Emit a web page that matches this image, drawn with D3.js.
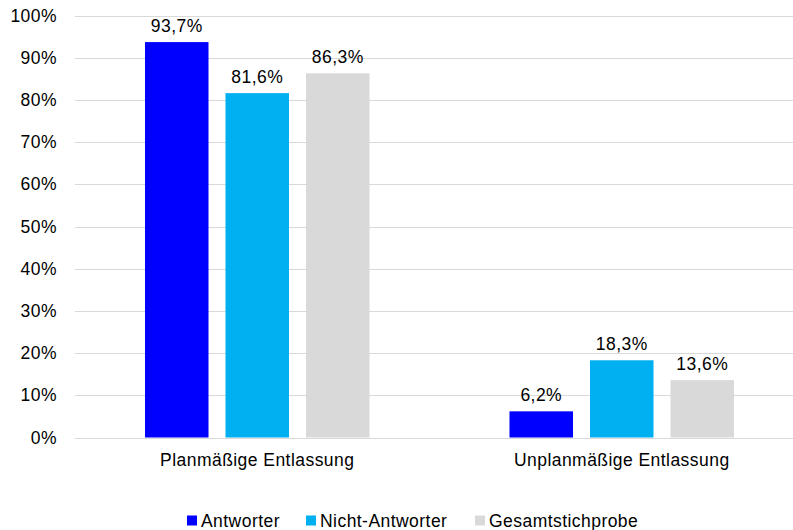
<!DOCTYPE html>
<html>
<head>
<meta charset="utf-8">
<script src="https://cdn.jsdelivr.net/npm/d3@7"></script>
<style>
  body { margin: 0; background: #fff; }
  svg { display: block; font-family: "Liberation Sans", Arial, sans-serif; }
  svg text { letter-spacing: 0.45px; }
</style>
</head>
<body>
<div id="chart"></div>
<script>
// data
const categories = ["Planmäßige Entlassung", "Unplanmäßige Entlassung"];
const seriesNames = ["Antworter", "Nicht-Antworter", "Gesamtstichprobe"];
const antworter = [93.7, 6.2];
const nichtAntworter = [81.6, 18.3];
const gesamt = [86.3, 13.6];
const yTicks = [0, 10, 20, 30, 40, 50, 60, 70, 80, 90, 100];
const colors = ["#0000ff", "#00b0f0", "#d9d9d9"];

const seriesValues = [antworter, nichtAntworter, gesamt];
const rows = categories.map((c, i) => ({
    cat: c,
    vals: seriesNames.map((s, j) => ({ key: s, value: seriesValues[j][i], color: colors[j] }))
}));

const width = 793, height = 530;
const margin = { top: 15.5, left: 75, bottom: 92.5 };
// plot extends past the right edge of the picture
const plotRight = 804;
const fontSize = "17.5px";

const svg = d3.select("#chart").append("svg")
    .attr("width", width)
    .attr("height", height);

const x0 = d3.scaleBand()
    .domain(categories)
    .range([margin.left, plotRight])
    .paddingInner(0.384)
    .paddingOuter(0.192);

const x1 = d3.scaleBand()
    .domain(seriesNames)
    .range([0, x0.bandwidth()])
    .paddingInner(0.211);

const y = d3.scaleLinear()
    .domain([0, 100])
    .range([height - margin.bottom, margin.top]);

// gridlines
svg.append("g")
    .selectAll("line")
    .data(yTicks)
    .enter().append("line")
    .attr("x1", margin.left)
    .attr("x2", plotRight)
    .attr("y1", d => Math.round(y(d)) + 0.5)
    .attr("y2", d => Math.round(y(d)) + 0.5)
    .attr("stroke", "#d9d9d9")
    .attr("stroke-width", 1.2);

// y axis labels
const yAxis = svg.append("g")
    .attr("transform", `translate(${margin.left},0)`)
    .call(d3.axisLeft(y).tickValues(yTicks).tickFormat(d => d + "%").tickSize(0).tickPadding(18));
yAxis.select(".domain").remove();
yAxis.selectAll("text")
    .style("font-size", fontSize)
    .style("font-family", "Liberation Sans, Arial, sans-serif")
    .attr("fill", "#000");

// x axis labels
const xAxis = svg.append("g")
    .attr("transform", `translate(0,${y(0)})`)
    .call(d3.axisBottom(x0).tickSize(0).tickPadding(16));
xAxis.select(".domain").remove();
xAxis.selectAll("text")
    .style("font-size", fontSize)
    .style("font-family", "Liberation Sans, Arial, sans-serif")
    .attr("fill", "#000");

// bars
const groups = svg.selectAll("g.grp")
    .data(rows)
    .enter().append("g")
    .attr("class", "grp")
    .attr("transform", d => `translate(${x0(d.cat)},0)`);

groups.selectAll("rect")
    .data(d => d.vals)
    .enter().append("rect")
    .attr("x", d => x1(d.key))
    .attr("width", x1.bandwidth())
    .attr("y", d => y(d.value))
    .attr("height", d => y(0) - y(d.value))
    .attr("fill", d => d.color);

groups.selectAll("text.val")
    .data(d => d.vals)
    .enter().append("text")
    .attr("class", "val")
    .attr("x", d => x1(d.key) + x1.bandwidth() / 2)
    .attr("y", d => y(d.value) - 10)
    .attr("text-anchor", "middle")
    .style("font-size", fontSize)
    .text(d => d.value.toFixed(1).replace(".", ",") + "%");

// legend
const legendX = [187, 306, 475];
const legend = svg.append("g");
seriesNames.forEach((s, i) => {
    legend.append("rect")
        .attr("x", legendX[i])
        .attr("y", 515.5)
        .attr("width", 10)
        .attr("height", 10)
        .attr("fill", colors[i]);
    legend.append("text")
        .attr("x", legendX[i] + 14)
        .attr("y", 527)
        .style("font-size", fontSize)
        .text(s);
});
</script>
</body>
</html>
